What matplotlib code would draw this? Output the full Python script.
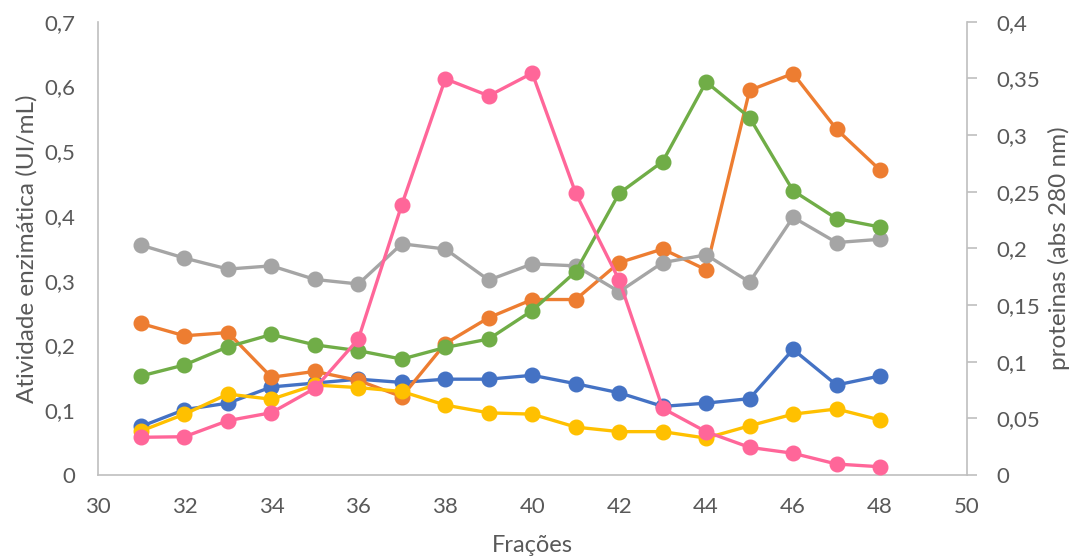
import matplotlib
matplotlib.use("Agg")
import matplotlib.pyplot as plt
from matplotlib.ticker import FuncFormatter

plt.rcParams['font.family'] = ['Lato', 'DejaVu Sans']

fracoes = list(range(31, 49))

# atividades enzimáticas (UI/mL) - eixo principal
azul = [0.075, 0.101, 0.111, 0.136, 0.142, 0.148, 0.143, 0.148, 0.148, 0.154,
        0.141, 0.127, 0.106, 0.111, 0.118, 0.194, 0.139, 0.153]
laranja = [0.234, 0.215, 0.220, 0.151, 0.160, 0.146, 0.121, 0.203, 0.243, 0.271,
           0.271, 0.328, 0.349, 0.317, 0.594, 0.620, 0.534, 0.471]
cinza = [0.355, 0.335, 0.318, 0.323, 0.302, 0.295, 0.357, 0.349, 0.301, 0.326,
         0.323, 0.283, 0.328, 0.340, 0.298, 0.398, 0.359, 0.364]
amarelo = [0.068, 0.094, 0.125, 0.117, 0.139, 0.135, 0.129, 0.108, 0.096, 0.094,
           0.074, 0.067, 0.067, 0.057, 0.076, 0.094, 0.102, 0.085]
verde = [0.153, 0.170, 0.198, 0.217, 0.201, 0.192, 0.179, 0.197, 0.210, 0.254,
         0.314, 0.435, 0.484, 0.607, 0.552, 0.439, 0.396, 0.383]

# proteínas (abs 280 nm) - eixo secundário
proteinas = [0.0333, 0.0338, 0.048, 0.055, 0.0765, 0.120, 0.2386, 0.3496, 0.3346,
             0.3546, 0.2487, 0.172, 0.0589, 0.0382, 0.0244, 0.0192, 0.0097, 0.0073]

fig = plt.figure(figsize=(10.72, 5.58), dpi=100)
ax = fig.add_axes([0.091, 0.1487, 0.811, 0.8124])
ax2 = ax.twinx()

estilo = dict(lw=2.4, marker='o', markersize=10.5)
ax.plot(fracoes, azul, color='#4472C4', **estilo)
ax.plot(fracoes, laranja, color='#ED7D31', **estilo)
ax.plot(fracoes, cinza, color='#A5A5A5', **estilo)
ax.plot(fracoes, amarelo, color='#FFC000', **estilo)
ax.plot(fracoes, verde, color='#70AD47', **estilo)
ax2.plot(fracoes, proteinas, color='#FF6699', **estilo)

virgula = FuncFormatter(lambda v, p: '{:g}'.format(round(v, 3)).replace('.', ','))

ax.set_xlim(30, 50)
ax.set_ylim(0, 0.7)
ax2.set_ylim(0, 0.4)
ax.set_xticks(range(30, 51, 2))
ax.set_yticks([i / 10 for i in range(8)])
ax2.set_yticks([i * 0.05 for i in range(9)])
ax.yaxis.set_major_formatter(virgula)
ax2.yaxis.set_major_formatter(virgula)

cor_txt = '#595959'
cor_eixo = '#BFBFBF'
for a in (ax, ax2):
    for s in a.spines.values():
        s.set_color(cor_eixo)
        s.set_linewidth(1.2)
    a.spines['top'].set_visible(False)
ax.spines['right'].set_visible(False)
ax2.spines['left'].set_visible(False)
ax2.spines['bottom'].set_visible(False)

ax.tick_params(axis='both', length=0, labelsize=16, colors=cor_txt)
ax.tick_params(axis='x', pad=15.5)
ax.tick_params(axis='y', pad=16)
ax2.tick_params(axis='y', length=7, width=1.2, color=cor_eixo, labelsize=16,
                labelcolor=cor_txt, pad=14)

ax.set_xlabel('Frações', fontsize=17, color=cor_txt, labelpad=13)
ax.set_ylabel('Atividade enzimática (UI/mL)', fontsize=17.5, color=cor_txt, labelpad=5)
ax2.set_ylabel('proteinas (abs 280 nm)', fontsize=17.5, color=cor_txt, labelpad=6)

fig.savefig('out.png', dpi=100)
